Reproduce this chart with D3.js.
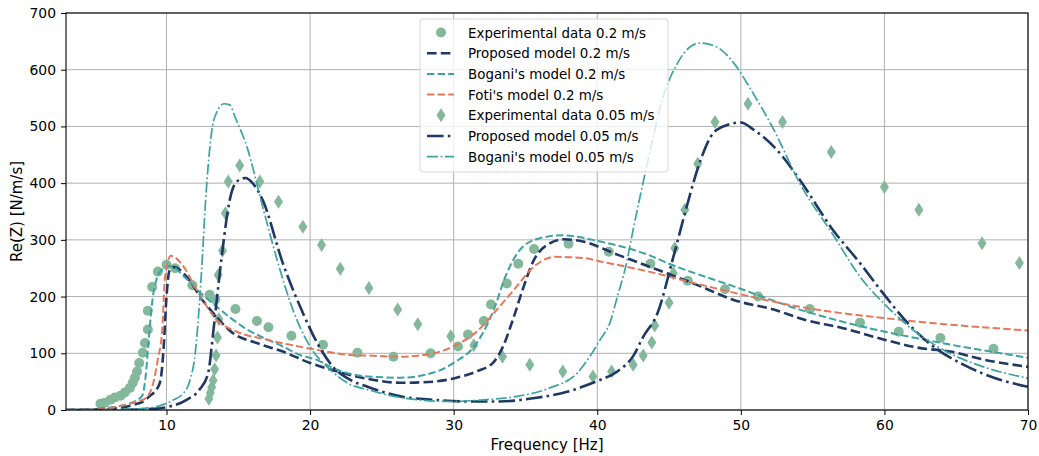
<!DOCTYPE html>
<html>
<head>
<meta charset="utf-8">
<script src="https://cdn.jsdelivr.net/npm/d3@7"></script>
<style>
  body { margin: 0; background: #fff; }
  text { font-family: "DejaVu Sans", sans-serif; fill: #000; }
</style>
</head>
<body>
<div id="chart"></div>
<script>
// experimental points, 0.2 m/s (circles)
const exp02F = [5.4, 5.7, 6.1, 6.4, 6.8, 7.1, 7.45, 7.65, 7.8, 7.95, 8.1, 8.35, 8.5, 8.7, 8.7, 9.0, 9.4, 10.0, 10.6, 11.8, 13.0, 13.4,
  14.8, 16.3, 17.1, 18.7, 20.9, 23.3, 25.8, 28.4, 30.3, 31.0, 32.1, 32.6, 33.7, 34.5, 35.6, 38.0, 40.8, 43.7,
  46.3, 48.9, 51.2, 54.8, 58.3, 61.0, 63.9, 67.6];
const exp02V = [11, 13, 18, 22, 25, 31, 39, 48, 57, 68, 83, 101, 118, 142, 175, 217, 244, 256, 250, 220, 203, 195,
  178, 157, 146, 131, 115, 101, 94, 100, 112, 133, 157, 186, 223, 258, 284, 293, 279, 258,
  228, 213, 200, 178, 154, 138, 127, 108];

// experimental points, 0.05 m/s (diamonds)
const exp005F = [12.95, 13.05, 13.15, 13.25, 13.35, 13.45, 13.55, 13.65, 13.6, 13.9, 14.1, 14.3, 15.1, 16.5, 17.8, 19.5, 20.8, 22.1,
  24.1, 26.1, 27.5, 29.8, 31.4, 33.4, 35.3, 37.6, 39.7, 41.0, 42.5, 43.2, 43.8, 44.0, 45.0, 45.3, 45.4, 46.1, 47.0,
  48.2, 50.5, 52.9, 56.3, 60.0, 62.4, 66.8, 69.4];
const exp005V = [20, 30, 40, 52, 72, 96, 128, 160, 238, 281, 347, 403, 431, 403, 367, 323, 291, 249,
  215, 177, 151, 130, 114, 94, 80, 68, 59, 68, 80, 96, 119, 149, 189, 241, 285, 353, 434,
  508, 540, 508, 455, 393, 353, 294, 259];

// Proposed model 0.2 m/s
const prop02F = [3, 5, 6.5, 7.7, 8.5, 8.85, 9.4, 9.6, 9.8, 10.0, 10.2, 10.5, 11.4, 12.5, 13.25, 14.6, 16.3, 18.1, 20.0, 21.6,
  24.0, 26.3, 28.6, 30.2, 31.6, 32.8, 33.4, 34.2, 34.8, 35.6, 36.5, 37.7, 39.0, 41.4, 43.6, 47.2, 49.5, 52.3,
  54.6, 57.0, 60.0, 62.3, 64.6, 66.9, 70];
const prop02V = [0, 1, 3, 9, 17, 25, 40, 55, 110, 200, 245, 252, 235, 194, 171, 136, 118, 103, 83, 70,
  55, 48, 50, 57, 68, 85, 110, 165, 212, 265, 291, 301, 297, 274, 253, 218, 194, 177,
  158, 145, 124, 110, 103, 89, 76];

// Bogani's model 0.2 m/s
const bog02F = [3, 5, 6.5, 7.5, 8.3, 8.55, 8.75, 9.0, 9.3, 9.7, 10.3, 11.2, 12.3, 13.5, 15.3, 18.1, 19.3, 20.5, 21.6,
  24.0, 26.3, 28.6, 30.0, 31.6, 32.8, 33.6, 34.6, 36.0, 37.6, 40.2, 43.6, 44.9, 49.5, 54.1, 58.8, 63.4, 70];
const bog02V = [0, 2, 6, 12, 25, 60, 120, 190, 230, 248, 254, 236, 208, 182, 147, 112, 97, 88, 74,
  59, 57, 66, 83, 118, 177, 235, 282, 303, 308, 297, 273, 259, 218, 177, 145, 121, 92];

// Foti's model 0.2 m/s
const foti02F = [3, 5, 6.1, 7.3, 8.0, 8.6, 9.1, 9.4, 9.7, 9.9, 10.3, 11.1, 12.1, 13.5, 14.9, 17.0, 20.5, 22.8, 24.0,
  26.3, 28.6, 30.2, 31.6, 32.8, 34.2, 35.6, 37.0, 39.0, 40.2, 43.6, 47.2, 54.1, 61.1, 70];
const foti02V = [0, 1, 4, 10, 15, 22, 50, 90, 141, 235, 272, 256, 212, 159, 138, 124, 106, 97, 96,
  94, 100, 115, 138, 171, 212, 253, 270, 268, 262, 244, 221, 182, 159, 140];

// Proposed model 0.05 m/s
const prop005F = [3, 6, 8, 9, 10, 11.4, 12.3, 12.9, 13.25, 13.5, 13.9, 14.4, 14.9, 15.5, 16.0, 16.7, 18.1, 19.5, 20.5,
  21.6, 22.8, 24.0, 26.3, 28.6, 30.9, 33.2, 35.6, 37.9, 39.7, 40.2, 41.4, 42.5, 43.2, 44.2, 45.3, 46.3, 47.2,
  48.1, 49.1, 50.0, 50.9, 52.5, 54.1, 56.4, 58.3, 59.9, 61.6, 63.4, 65.5, 68.1, 70];
const prop005V = [0, 0, 1, 2, 5, 18, 36, 65, 136, 194, 282, 370, 403, 409, 400, 370, 259, 171, 118,
  76, 53, 41, 24, 18, 15, 15, 21, 32, 48, 53, 68, 95, 129, 171, 270, 365, 441,
  489, 503, 507, 494, 459, 406, 318, 259, 206, 154, 112, 80, 53, 41];

// Bogani's model 0.05 m/s
const bog005F = [3, 7, 8.85, 10.5, 11.2, 11.6, 12.0, 12.3, 12.5, 12.7, 12.9, 13.2, 13.5, 14.0, 14.4, 14.8, 15.6, 16.7,
  17.7, 18.8, 20.0, 21.4, 22.8, 24.0, 26.3, 29.8, 32.1, 34.4, 36.7, 38.6, 39.7, 40.2, 40.9, 41.4, 42.0, 42.5,
  43.5, 44.6, 45.6, 46.5, 47.2, 48.4, 49.5, 50.7, 52.3, 54.1, 56.5, 58.3, 60.2, 62.0, 64.1, 66.9, 70];
const bog005V = [0, 1, 4, 18, 30, 50, 100, 190, 270, 360, 430, 500, 525, 540, 538, 515, 464, 358,
  265, 177, 112, 71, 45, 36, 22, 15, 18, 24, 39, 65, 103, 124, 155, 200, 255, 318,
  436, 553, 612, 641, 647, 639, 612, 565, 494, 400, 306, 235, 182, 141, 106, 76, 56];

const xTicks = [10, 20, 30, 40, 50, 60, 70];
const yTicks = [0, 100, 200, 300, 400, 500, 600, 700];

const seriesNames = ["Experimental data 0.2 m/s", "Proposed model 0.2 m/s", "Bogani's model 0.2 m/s",
  "Foti's model 0.2 m/s", "Experimental data 0.05 m/s", "Proposed model 0.05 m/s", "Bogani's model 0.05 m/s"];

const green = "#84b89c", navy = "#1f3864", teal = "#3ba3a0", orange = "#e8775a";

const width = 1039, height = 456;
const margin = {top: 13, right: 11, bottom: 46, left: 66};
const w = width - margin.left - margin.right;
const h = height - margin.top - margin.bottom;

const svg = d3.select("#chart").append("svg")
  .attr("width", width).attr("height", height);

const x = d3.scaleLinear().domain([3, 70]).range([0, w]);
const y = d3.scaleLinear().domain([0, 700]).range([h, 0]);

const g = svg.append("g").attr("transform", "translate(" + margin.left + "," + margin.top + ")");

svg.append("defs").append("clipPath").attr("id", "clip")
  .append("rect").attr("width", w).attr("height", h);

// grid
g.append("g").selectAll("line").data(xTicks).enter().append("line")
  .attr("x1", d => x(d)).attr("x2", d => x(d)).attr("y1", 0).attr("y2", h)
  .attr("stroke", "#b0b0b0").attr("stroke-width", 1);
g.append("g").selectAll("line").data(yTicks).enter().append("line")
  .attr("y1", d => y(d)).attr("y2", d => y(d)).attr("x1", 0).attr("x2", w)
  .attr("stroke", "#b0b0b0").attr("stroke-width", 1);

const plot = g.append("g").attr("clip-path", "url(#clip)");

function zip(fs, vs) { return fs.map((f, i) => ({f: f, v: vs[i]})); }

const line = d3.line().x(d => x(d.f)).y(d => y(d.v)).curve(d3.curveMonotoneX);

// experimental markers first, lines on top
plot.selectAll(".c02").data(zip(exp02F, exp02V)).enter().append("circle")
  .attr("cx", d => x(d.f)).attr("cy", d => y(d.v)).attr("r", 5)
  .attr("fill", green);

const diamond = "M0,-7L4.5,0L0,7L-4.5,0Z";
plot.selectAll(".d005").data(zip(exp005F, exp005V)).enter().append("path")
  .attr("d", diamond)
  .attr("transform", d => "translate(" + x(d.f) + "," + y(d.v) + ")")
  .attr("fill", green);

const lines = [
  {f: prop02F, v: prop02V, color: navy, lw: 2.6, dash: "9.6,4.2"},
  {f: bog02F, v: bog02V, color: teal, lw: 2, dash: "7.4,3.2"},
  {f: foti02F, v: foti02V, color: orange, lw: 2, dash: "7.4,3.2"},
  {f: prop005F, v: prop005V, color: navy, lw: 2.6, dash: "16.6,4.2,2.6,4.2"},
  {f: bog005F, v: bog005V, color: teal, lw: 1.7, dash: "10.9,2.7,1.7,2.7"}
];

lines.forEach(s => {
  plot.append("path")
    .attr("d", line(zip(s.f, s.v)))
    .attr("fill", "none")
    .attr("stroke", s.color)
    .attr("stroke-width", s.lw)
    .attr("stroke-dasharray", s.dash);
});

// frame
g.append("rect").attr("width", w).attr("height", h)
  .attr("fill", "none").attr("stroke", "#000").attr("stroke-width", 1.1);

// axes
const xAxis = g.append("g").attr("transform", "translate(0," + h + ")")
  .call(d3.axisBottom(x).tickValues(xTicks).tickSize(5).tickPadding(5).tickFormat(d3.format("d")));
const yAxis = g.append("g")
  .call(d3.axisLeft(y).tickValues(yTicks).tickSize(5).tickPadding(5).tickFormat(d3.format("d")));
[xAxis, yAxis].forEach(a => {
  a.select(".domain").remove();
  a.selectAll("text").style("font-size", "13.9px").style("font-family", "DejaVu Sans");
  a.selectAll("line").attr("stroke", "#000");
});

svg.append("text")
  .attr("x", margin.left + w / 2).attr("y", 450)
  .attr("text-anchor", "middle").style("font-size", "15px")
  .text("Frequency [Hz]");

svg.append("text")
  .attr("transform", "translate(21.5," + (margin.top + h / 2) + ") rotate(-90)")
  .attr("text-anchor", "middle").style("font-size", "15px")
  .text("Re(Z) [N/m/s]");

// legend
const leg = svg.append("g").attr("transform", "translate(420,19)");
leg.append("rect").attr("width", 248).attr("height", 153).attr("rx", 3)
  .attr("fill", "#fff").attr("fill-opacity", 0.8)
  .attr("stroke", "#d6d6d6").attr("stroke-width", 1);

const legendItems = [
  {type: "circle"}, {type: "line", s: lines[0]}, {type: "line", s: lines[1]}, {type: "line", s: lines[2]},
  {type: "diamond"}, {type: "line", s: lines[3]}, {type: "line", s: lines[4]}
];
legendItems.forEach((it, i) => {
  const yy = 13.5 + i * 20.7;
  const row = leg.append("g").attr("transform", "translate(0," + yy + ")");
  if (it.type === "circle") {
    row.append("circle").attr("cx", 21).attr("cy", 0).attr("r", 5).attr("fill", green);
  } else if (it.type === "diamond") {
    row.append("path").attr("d", diamond).attr("transform", "translate(21,0)").attr("fill", green);
  } else {
    row.append("line").attr("x1", 7).attr("x2", 34).attr("y1", 0).attr("y2", 0)
      .attr("stroke", it.s.color).attr("stroke-width", it.s.lw)
      .attr("stroke-dasharray", it.s.dash);
  }
  row.append("text").attr("x", 48).attr("y", 5).style("font-size", "13.4px")
    .text(seriesNames[i]);
});
</script>
</body>
</html>
